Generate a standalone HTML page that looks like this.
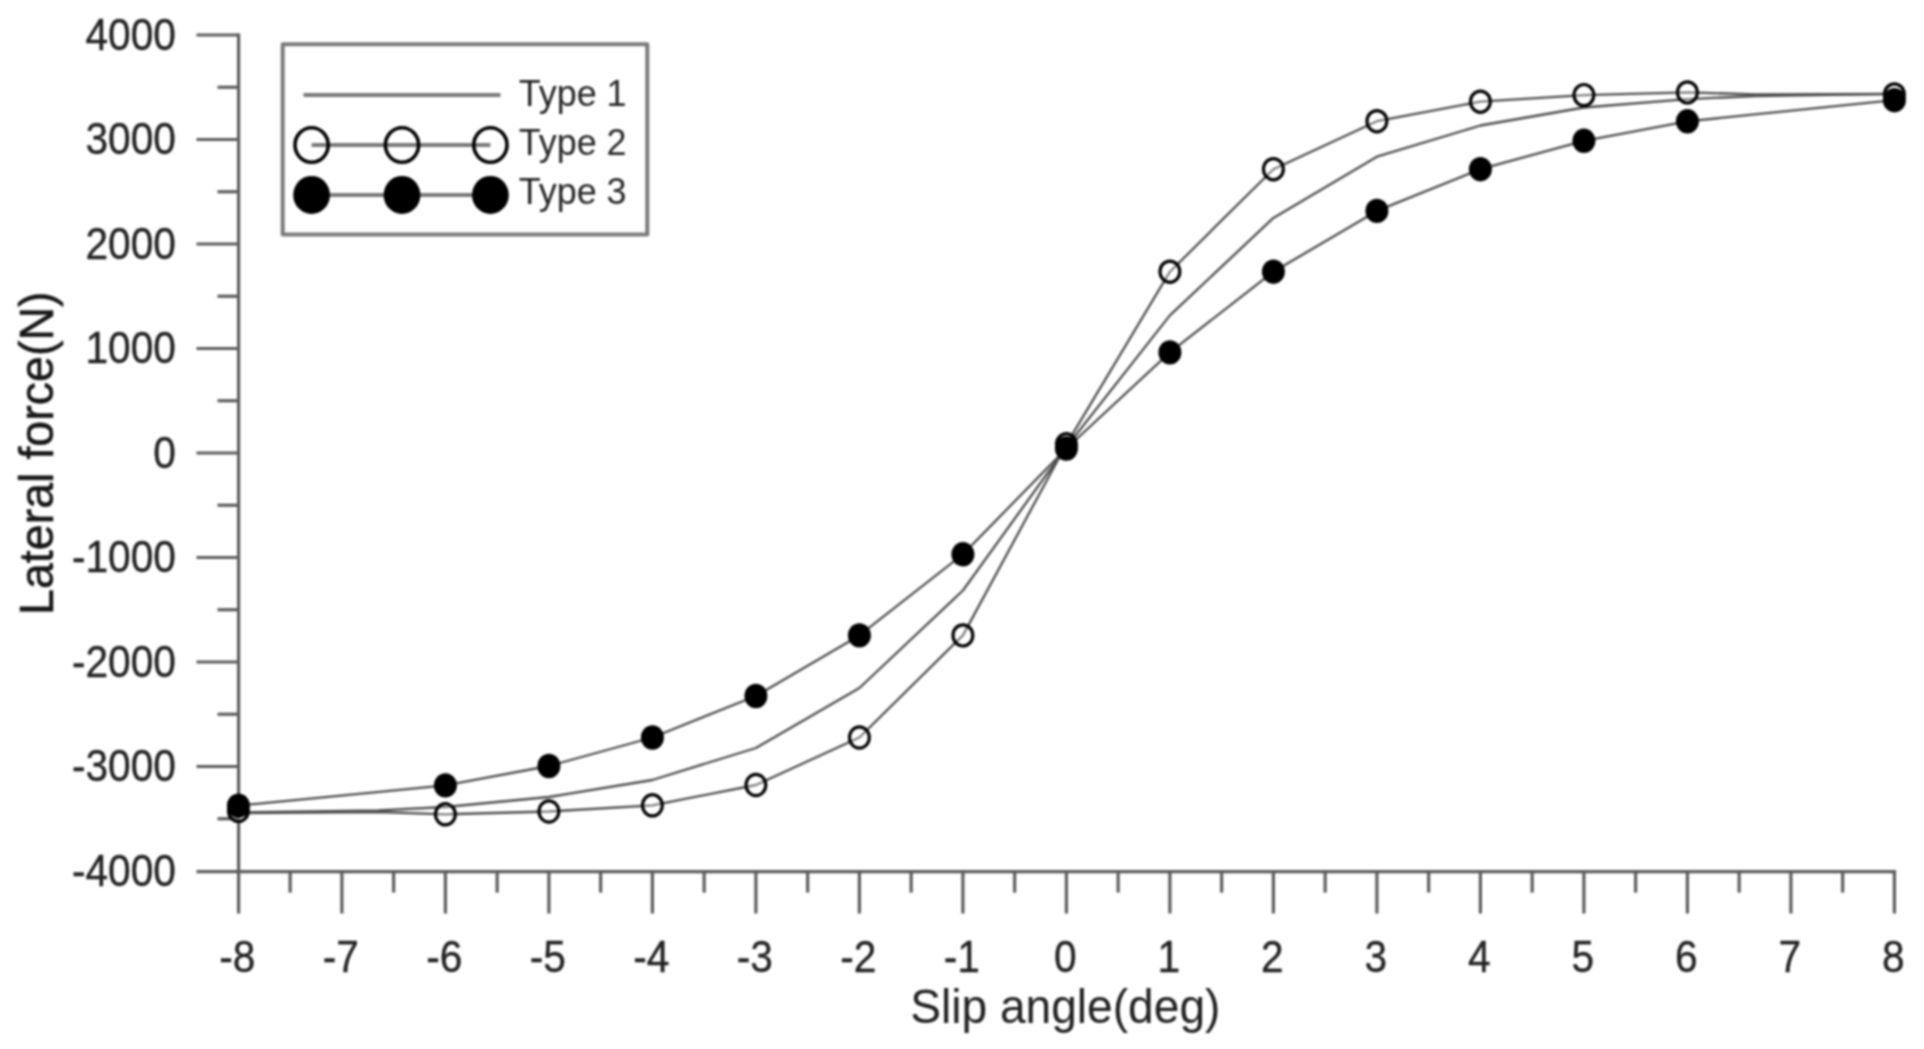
<!DOCTYPE html><html><head><meta charset="utf-8"><title>Lateral force vs slip angle</title>
<style>html,body{margin:0;padding:0;background:#fff;overflow:hidden}svg{display:block}text{font-family:"Liberation Sans",Arial,sans-serif}</style></head><body>
<svg width="1924" height="1049" viewBox="0 0 1924 1049">
<rect width="1924" height="1049" fill="#fff"/>
<g id="chart" style="filter:blur(0.9px)" fill="#333">
<g stroke="#5c5c5c" stroke-width="3.2" fill="none" stroke-linecap="butt">
<path d="M238.6 33.5V913.5"/>
<path d="M196.5 871.7H1896.1"/>
<path d="M217.5 818.75H238.6"/>
<path d="M196.5 766.50H238.6"/>
<path d="M217.5 714.25H238.6"/>
<path d="M196.5 662.00H238.6"/>
<path d="M217.5 609.75H238.6"/>
<path d="M196.5 557.50H238.6"/>
<path d="M217.5 505.25H238.6"/>
<path d="M196.5 453.00H238.6"/>
<path d="M217.5 400.75H238.6"/>
<path d="M196.5 348.50H238.6"/>
<path d="M217.5 296.25H238.6"/>
<path d="M196.5 244.00H238.6"/>
<path d="M217.5 191.75H238.6"/>
<path d="M196.5 139.50H238.6"/>
<path d="M217.5 87.25H238.6"/>
<path d="M196.5 35.00H238.6"/>
<path d="M290.15 871.7V892.6"/>
<path d="M341.90 871.7V913.5"/>
<path d="M393.65 871.7V892.6"/>
<path d="M445.40 871.7V913.5"/>
<path d="M497.15 871.7V892.6"/>
<path d="M548.90 871.7V913.5"/>
<path d="M600.65 871.7V892.6"/>
<path d="M652.40 871.7V913.5"/>
<path d="M704.15 871.7V892.6"/>
<path d="M755.90 871.7V913.5"/>
<path d="M807.65 871.7V892.6"/>
<path d="M859.40 871.7V913.5"/>
<path d="M911.15 871.7V892.6"/>
<path d="M962.90 871.7V913.5"/>
<path d="M1014.65 871.7V892.6"/>
<path d="M1066.40 871.7V913.5"/>
<path d="M1118.15 871.7V892.6"/>
<path d="M1169.90 871.7V913.5"/>
<path d="M1221.65 871.7V892.6"/>
<path d="M1273.40 871.7V913.5"/>
<path d="M1325.15 871.7V892.6"/>
<path d="M1376.90 871.7V913.5"/>
<path d="M1428.65 871.7V892.6"/>
<path d="M1480.40 871.7V913.5"/>
<path d="M1532.15 871.7V892.6"/>
<path d="M1583.90 871.7V913.5"/>
<path d="M1635.65 871.7V892.6"/>
<path d="M1687.40 871.7V913.5"/>
<path d="M1739.15 871.7V892.6"/>
<path d="M1790.90 871.7V913.5"/>
<path d="M1842.65 871.7V892.6"/>
<path d="M1894.40 871.7V913.5"/>
</g>
<g font-size="44.6" text-anchor="end" fill="#222" stroke="#222" stroke-width="0.35">
<text transform="translate(176 885.9) scale(0.913 1)">-4000</text>
<text transform="translate(176 781.4) scale(0.913 1)">-3000</text>
<text transform="translate(176 676.9) scale(0.913 1)">-2000</text>
<text transform="translate(176 572.4) scale(0.913 1)">-1000</text>
<text transform="translate(176 467.9) scale(0.913 1)">0</text>
<text transform="translate(176 363.4) scale(0.913 1)">1000</text>
<text transform="translate(176 258.9) scale(0.913 1)">2000</text>
<text transform="translate(176 154.4) scale(0.913 1)">3000</text>
<text transform="translate(176 49.9) scale(0.913 1)">4000</text>
</g>
<g font-size="44.6" text-anchor="middle" fill="#222" stroke="#222" stroke-width="0.35">
<text transform="translate(237.4 971.8) scale(0.913 1)">-8</text>
<text transform="translate(340.9 971.8) scale(0.913 1)">-7</text>
<text transform="translate(444.4 971.8) scale(0.913 1)">-6</text>
<text transform="translate(547.9 971.8) scale(0.913 1)">-5</text>
<text transform="translate(651.4 971.8) scale(0.913 1)">-4</text>
<text transform="translate(754.9 971.8) scale(0.913 1)">-3</text>
<text transform="translate(858.4 971.8) scale(0.913 1)">-2</text>
<text transform="translate(961.9 971.8) scale(0.913 1)">-1</text>
<text transform="translate(1065.4 971.8) scale(0.913 1)">0</text>
<text transform="translate(1168.9 971.8) scale(0.913 1)">1</text>
<text transform="translate(1272.4 971.8) scale(0.913 1)">2</text>
<text transform="translate(1375.9 971.8) scale(0.913 1)">3</text>
<text transform="translate(1479.4 971.8) scale(0.913 1)">4</text>
<text transform="translate(1582.9 971.8) scale(0.913 1)">5</text>
<text transform="translate(1686.4 971.8) scale(0.913 1)">6</text>
<text transform="translate(1789.9 971.8) scale(0.913 1)">7</text>
<text transform="translate(1893.4 971.8) scale(0.913 1)">8</text>
</g>
<text transform="translate(1065.3 1022.5) scale(0.965 1)" font-size="47.8" text-anchor="middle" fill="#222">Slip angle(deg)</text>
<text transform="translate(53 453.2) rotate(-90) scale(0.975 1)" font-size="47.8" text-anchor="middle" fill="#161616" stroke="#161616" stroke-width="0.5">Lateral force(N)</text>
<g stroke="#4e4e4e" stroke-width="2.3" fill="none" stroke-linejoin="round">
<polyline points="238.4,812.3 378.1,810.4 445.4,807.0 548.9,797.0 652.4,780.0 755.9,748.0 859.4,688.0 962.9,590.5 1066.4,447.0 1169.9,315.4 1273.4,217.9 1376.9,156.7 1480.4,125.5 1583.9,107.5 1687.4,99.2 1754.7,96.0 1894.4,93.8"/>
<polyline points="238.4,813.2 378.1,812.0 445.4,814.3 548.9,811.5 652.4,805.3 755.9,785.0 859.4,737.5 962.9,635.4 1066.4,444.3 1169.9,271.7 1273.4,169.2 1376.9,121.2 1480.4,101.7 1583.9,95.1 1687.4,92.4 1754.7,94.3 1894.4,94.0"/>
<polyline points="238.4,805.7 445.4,785.4 548.9,766.0 652.4,737.5 755.9,696.0 859.4,635.4 962.9,554.3 1066.4,448.5 1169.9,352.4 1273.4,271.7 1376.9,210.9 1480.4,169.2 1583.9,140.8 1687.4,121.3 1894.4,100.2"/>
</g>
<g stroke="#000" stroke-width="3.2" fill="#fff" fill-opacity="0.3">
<ellipse cx="238.4" cy="810.9" rx="9.9" ry="10.6"/>
<ellipse cx="445.4" cy="814.3" rx="9.9" ry="10.6"/>
<ellipse cx="548.9" cy="811.5" rx="9.9" ry="10.6"/>
<ellipse cx="652.4" cy="805.3" rx="9.9" ry="10.6"/>
<ellipse cx="755.9" cy="785.0" rx="9.9" ry="10.6"/>
<ellipse cx="859.4" cy="737.5" rx="9.9" ry="10.6"/>
<ellipse cx="962.9" cy="635.4" rx="9.9" ry="10.6"/>
<ellipse cx="1066.4" cy="444.3" rx="9.9" ry="10.6"/>
<ellipse cx="1169.9" cy="271.7" rx="9.9" ry="10.6"/>
<ellipse cx="1273.4" cy="169.2" rx="9.9" ry="10.6"/>
<ellipse cx="1376.9" cy="121.2" rx="9.9" ry="10.6"/>
<ellipse cx="1480.4" cy="101.7" rx="9.9" ry="10.6"/>
<ellipse cx="1583.9" cy="95.1" rx="9.9" ry="10.6"/>
<ellipse cx="1687.4" cy="92.4" rx="9.9" ry="10.6"/>
<ellipse cx="1894.4" cy="94.4" rx="9.9" ry="10.6"/>
</g>
<g fill="#000">
<ellipse cx="238.4" cy="805.7" rx="11.5" ry="12.2"/>
<ellipse cx="445.4" cy="785.4" rx="11.5" ry="12.2"/>
<ellipse cx="548.9" cy="766.0" rx="11.5" ry="12.2"/>
<ellipse cx="652.4" cy="737.5" rx="11.5" ry="12.2"/>
<ellipse cx="755.9" cy="696.0" rx="11.5" ry="12.2"/>
<ellipse cx="859.4" cy="635.4" rx="11.5" ry="12.2"/>
<ellipse cx="962.9" cy="554.3" rx="11.5" ry="12.2"/>
<ellipse cx="1066.4" cy="448.5" rx="11.5" ry="12.2"/>
<ellipse cx="1169.9" cy="352.4" rx="11.5" ry="12.2"/>
<ellipse cx="1273.4" cy="271.7" rx="11.5" ry="12.2"/>
<ellipse cx="1376.9" cy="210.9" rx="11.5" ry="12.2"/>
<ellipse cx="1480.4" cy="169.2" rx="11.5" ry="12.2"/>
<ellipse cx="1583.9" cy="140.8" rx="11.5" ry="12.2"/>
<ellipse cx="1687.4" cy="121.3" rx="11.5" ry="12.2"/>
<ellipse cx="1894.4" cy="100.2" rx="11.5" ry="12.2"/>
</g>
<rect x="282.7" y="44.2" width="364.6" height="190.3" fill="none" stroke="#7a7a7a" stroke-width="4" stroke-linejoin="round"/>
<g stroke="#7a7a7a" stroke-width="4" fill="none">
<path d="M303.5 95.1H500.5"/>
<path d="M311.6 145H490.4"/>
<path d="M311.6 194.9H490.4"/>
</g>
<ellipse cx="311.6" cy="145" rx="16.6" ry="17.2" fill="none" stroke="#000" stroke-width="3.6"/>
<ellipse cx="311.6" cy="194.9" rx="18.4" ry="19" fill="#000"/>
<ellipse cx="402.0" cy="145" rx="16.6" ry="17.2" fill="none" stroke="#000" stroke-width="3.6"/>
<ellipse cx="402.0" cy="194.9" rx="18.4" ry="19" fill="#000"/>
<ellipse cx="490.4" cy="145" rx="16.6" ry="17.2" fill="none" stroke="#000" stroke-width="3.6"/>
<ellipse cx="490.4" cy="194.9" rx="18.4" ry="19" fill="#000"/>
<g font-size="36.5" fill="#262626">
<text transform="translate(518.7 105.7) scale(0.985 1)">Type 1</text>
<text transform="translate(518.7 155.3) scale(0.985 1)">Type 2</text>
<text transform="translate(518.7 204.3) scale(0.985 1)">Type 3</text>
</g>
</g>
</svg></body></html>
